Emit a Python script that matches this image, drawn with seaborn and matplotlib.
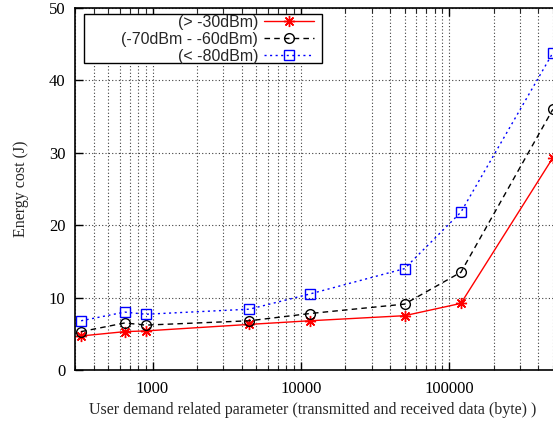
import matplotlib
matplotlib.use("Agg")
import matplotlib.pyplot as plt
import matplotlib.ticker as mticker
from matplotlib.patches import Rectangle
import seaborn as sns
import pandas as pd

# Data volume (bytes) and energy cost (J) per signal-strength class
data_bytes = [330, 650, 900, 4500, 11500, 50000, 120000, 500000]
strong = [4.7, 5.3, 5.4, 6.3, 6.8, 7.5, 9.2, 29.3]
medium = [5.3, 6.5, 6.2, 6.8, 7.8, 9.1, 13.5, 36.0]
weak = [6.8, 8.0, 7.7, 8.4, 10.5, 14.0, 21.8, 43.8]
labels = ["(> -30dBm)", "(-70dBm - -60dBm)", "(< -80dBm)"]

rows = []
for lab, vals in zip(labels, [strong, medium, weak]):
    for x, y in zip(data_bytes, vals):
        rows.append({"bytes": x, "energy": y, "signal": lab})
df = pd.DataFrame(rows)

sns.set_style("ticks")
plt.rcParams["font.family"] = ["Liberation Serif", "DejaVu Serif"]

fig = plt.figure(figsize=(5.53, 4.25), dpi=100)
ax = fig.add_axes([0.1356, 0.1294, 0.9448, 0.8518])

styles = {
    labels[0]: dict(color="#ff0000", linestyle="-", marker=(8, 2, 0), markersize=8),
    labels[1]: dict(color="black", linestyle=(0, (4, 3)), marker="o", markersize=7,
                    markerfacecolor="none"),
    labels[2]: dict(color="#0000ff", linestyle=(0, (1.5, 2.5)), marker="s", markersize=7,
                    markerfacecolor="none"),
}

for lab in labels:
    sub = df[df["signal"] == lab]
    st = styles[lab]
    sns.lineplot(data=sub, x="bytes", y="energy", ax=ax, label=lab,
                 color=st["color"], linestyle=st["linestyle"], marker=st["marker"],
                 markersize=st["markersize"], markeredgewidth=1.0,
                 markeredgecolor=st["color"],
                 markerfacecolor=st.get("markerfacecolor", st["color"]),
                 linewidth=1.0)

ax.set_xscale("log")
ax.set_xlim(300, 1e6)
ax.set_ylim(0, 50)
ax.set_yticks([0, 10, 20, 30, 40, 50])
ax.xaxis.set_major_locator(mticker.FixedLocator([1000, 10000, 100000]))
ax.xaxis.set_major_formatter(mticker.FuncFormatter(lambda v, p: f"{int(v)}"))
ax.xaxis.set_minor_locator(mticker.LogLocator(base=10, subs=range(2, 10), numticks=20))
ax.xaxis.set_minor_formatter(mticker.NullFormatter())

ax.grid(True, which="major", axis="both", color="0.25", linestyle=(0, (1, 2)), linewidth=0.8)
ax.grid(True, which="minor", axis="x", color="0.25", linestyle=(0, (1, 2)), linewidth=0.8)

ax.tick_params(which="major", direction="in", length=6, width=1.0, top=True, right=True,
               labelsize=12, colors="black")
ax.tick_params(axis="x", which="major", pad=8)
ax.tick_params(axis="y", which="major", pad=7)
ax.tick_params(which="minor", direction="in", length=3.5, width=0.8, top=True, right=True)
for side in ["top", "bottom", "left", "right"]:
    ax.spines[side].set_linewidth(1.2)
    ax.spines[side].set_color("black")

ax.set_xlabel("User demand related parameter (transmitted and received data (byte) )",
              fontsize=11.5)
# the plot area runs past the right edge, so centre the label on the visible part
ax.xaxis.set_label_coords(0.4555, -0.088)
ax.set_ylabel("Energy cost (J)", fontsize=11.5, labelpad=14)

# Key: right-aligned labels with samples on the right, inside a wide boxed frame
leg = ax.legend(loc="upper right", bbox_to_anchor=(0.4574, 0.981), borderaxespad=0,
                markerfirst=False, frameon=False, handlelength=3.1,
                prop={"family": "Liberation Sans", "size": 11.5},
                labelspacing=0.12, borderpad=0, handletextpad=0.4)
leg.set_zorder(6)
frame = Rectangle((0.0172, 0.848), 0.4555, 0.1354, transform=ax.transAxes,
                  facecolor="white", edgecolor="black", linewidth=1.0, zorder=5.5,
                  clip_on=False)
ax.add_patch(frame)

fig.savefig("out.png", dpi=100)
